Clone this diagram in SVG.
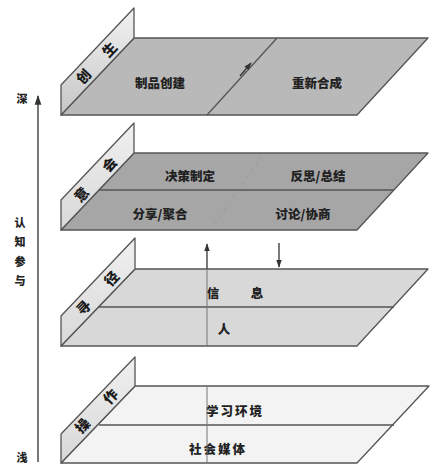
<svg xmlns="http://www.w3.org/2000/svg" width="433" height="468" viewBox="0 0 433 468">
<defs>
<linearGradient id="wallg" x1="0" y1="0" x2="0" y2="1">
<stop offset="0" stop-color="#f2f2f2"/>
<stop offset="1" stop-color="#c6c6c6"/>
</linearGradient>
<linearGradient id="wallg2" x1="0" y1="0" x2="0" y2="1">
<stop offset="0" stop-color="#f0f0f0"/>
<stop offset="1" stop-color="#d8d8d8"/>
</linearGradient>
<marker id="ah" viewBox="0 0 10 10" refX="9" refY="5" markerWidth="6" markerHeight="6" orient="auto-start-reverse">
<path d="M0,1.5 L10,5 L0,8.5 Z" fill="#333"/>
</marker>
</defs>
<style>
.edge{stroke:#555;stroke-width:1.3;stroke-linejoin:round}
.ln{stroke:#555;stroke-width:1.3;fill:none}
.t{font-family:"Noto Sans CJK SC","Noto Sans",sans-serif;font-weight:900;fill:#222;text-anchor:middle;dominant-baseline:central}
.f{font-size:12.5px}
.w{font-size:14px;fill:#1a1a1a}
.ax{font-size:11px}
.conn{stroke:#333;stroke-width:1.3;fill:none}
</style>
<rect width="433" height="468" fill="#ffffff"/>

<g id="axis">
<line x1="38" y1="462" x2="38" y2="96" stroke="#555" stroke-width="1.6" marker-end="url(#ah)"/>
<text class="t ax" x="22" y="98">深</text>
<text class="t ax" x="20" y="222">认</text>
<text class="t ax" x="20" y="241">知</text>
<text class="t ax" x="20" y="261">参</text>
<text class="t ax" x="20" y="280">与</text>
<text class="t ax" x="22" y="457">浅</text>
</g>

<g id="layer-chuangsheng">
<polygon class="edge" points="134,38 428,38 357,115 61,115" fill="#b9b9b9"/>
<polygon class="edge" points="61,115 61,85 134,8 134,38" fill="url(#wallg)"/>
<line class="ln" x1="277" y1="38" x2="207" y2="115"/>
<text class="t w" x="83" y="76" transform="rotate(-46.5 83 76)">创</text>
<text class="t w" x="109" y="49" transform="rotate(-46.5 109 49)">生</text>
<text class="t f" x="160" y="82">制品创建</text>
<text class="t f" x="317" y="82">重新合成</text>
</g>

<g id="layer-yihui">
<polygon class="edge" points="134,153 428,153 357,230 61,230" fill="#a6a6a6"/>
<polygon class="edge" points="61,230 61,200 134,123 134,153" fill="url(#wallg2)"/>
<line class="ln" x1="99" y1="190" x2="394" y2="190"/>
<line x1="262" y1="156" x2="212" y2="228" stroke="#8c8c8c" stroke-width="0.8" stroke-dasharray="3 5" opacity="0.6"/>
<text class="t w" x="81" y="194" transform="rotate(-46.5 81 194)">意</text>
<text class="t w" x="109" y="164" transform="rotate(-46.5 109 164)">会</text>
<text class="t f" x="190" y="175">决策制定</text>
<text class="t f" x="318" y="175">反思/总结</text>
<text class="t f" x="160" y="213">分享/聚合</text>
<text class="t f" x="303" y="213">讨论/协商</text>
</g>

<g id="layer-xunjing">
<polygon class="edge" points="135,269 428,269 357,346 61,346" fill="#d8d8d8"/>
<polygon class="edge" points="61,346 61,316 135,238 135,269" fill="url(#wallg2)"/>
<line class="ln" x1="99" y1="307" x2="394" y2="307"/>
<text class="t w" x="83" y="307" transform="rotate(-46.5 83 307)">寻</text>
<text class="t w" x="111" y="278" transform="rotate(-46.5 111 278)">径</text>
<text class="t f" x="213" y="292">信</text>
<text class="t f" x="257" y="292">息</text>
<text class="t f" x="224" y="328">人</text>
</g>

<g id="layer-caozuo">
<polygon class="edge" points="135,386 429,386 357,463 61,463" fill="#f3f3f3"/>
<polygon class="edge" points="61,463 61,434 135,357 135,386" fill="url(#wallg2)"/>
<line class="ln" x1="99" y1="425" x2="394" y2="425"/>
<text class="t w" x="82" y="425" transform="rotate(-46.5 82 425)">操</text>
<text class="t w" x="110" y="396" transform="rotate(-46.5 110 396)">作</text>
<text class="t f" x="235" y="410" letter-spacing="2">学习环境</text>
<text class="t f" x="218" y="448" letter-spacing="2">社会媒体</text>
</g>

<g id="connectors">
<line class="conn" x1="240" y1="76" x2="251" y2="63" marker-end="url(#ah)"/>
<line x1="207" y1="346" x2="207" y2="269" stroke="#777" stroke-width="1"/>
<line class="conn" x1="207" y1="269" x2="207" y2="244" marker-end="url(#ah)"/>
<line class="conn" x1="279" y1="243" x2="279" y2="267" marker-end="url(#ah)"/>
<line x1="207" y1="386" x2="207" y2="463" stroke="#777" stroke-width="1"/>
</g>
</svg>
